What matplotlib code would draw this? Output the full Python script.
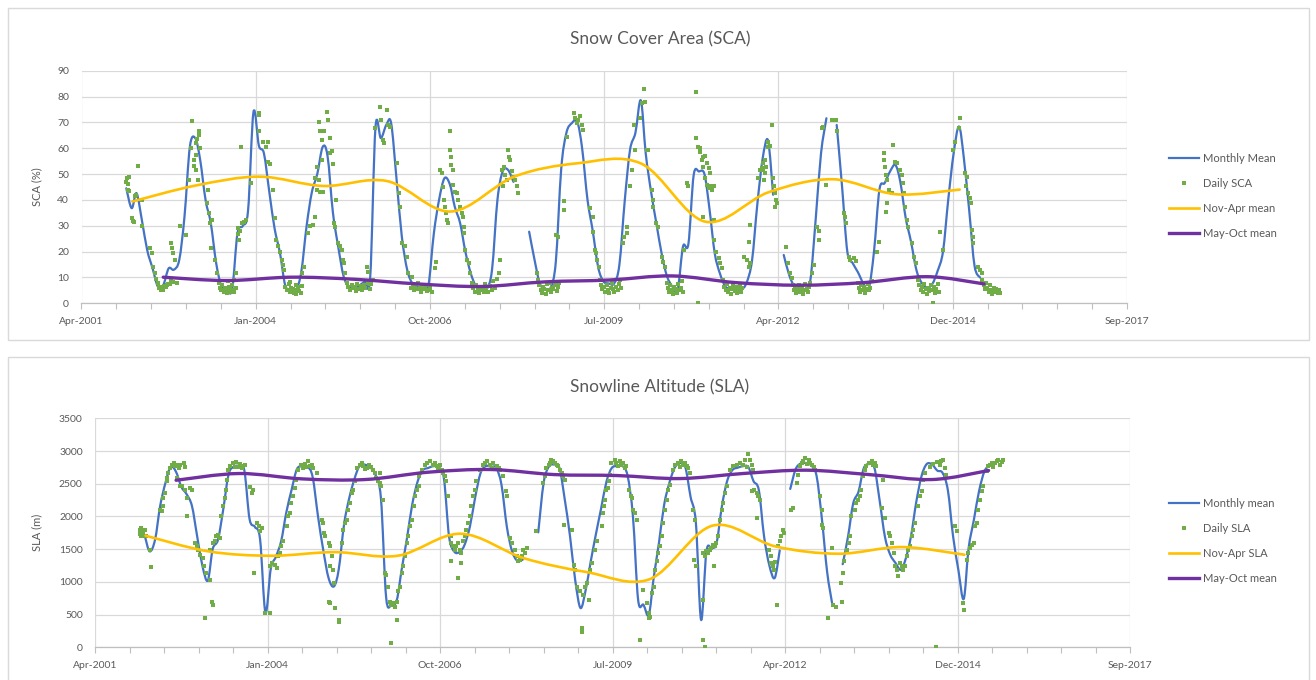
import numpy as np
import pandas as pd
import matplotlib
matplotlib.use("Agg")
import matplotlib.pyplot as plt
import matplotlib.dates as mdates
from matplotlib.path import Path
from matplotlib.patches import PathPatch, Rectangle
from matplotlib.lines import Line2D
from matplotlib.ticker import FixedLocator
from datetime import datetime

plt.rcParams['font.family'] = ['Lato', 'DejaVu Sans']

nan = float('nan')

# ---------------- Snow Cover Area (%) ----------------
# monthly mean, first of month, Jan 2002 - Jun 2015
sca_monthly = [
    44.5, 36.8, 42.6, 32.0, 20.6, 13.5, 6.5, 7.0, 13.5, 13.0, 16.8, 33.5,      # 2002
    60.6, 63.9, 55.5, 40.0, 31.0, 15.5, 6.5, 5.2, 5.5, 27.0, 30.0, 36.0,       # 2003
    74.0, 61.0, 58.0, 43.0, 29.0, 19.5, 7.0, 5.2, 5.2, 12.0, 30.0, 43.0,       # 2004
    50.0, 60.5, 57.0, 35.0, 22.0, 10.5, 6.5, 6.0, 7.0, 8.5, 10.3, 68.0,        # 2005
    63.9, 69.0, 69.7, 48.0, 26.0, 13.0, 7.7, 6.5, 6.5, 7.0, 27.0, 40.0,        # 2006
    48.4, 46.0, 37.4, 31.0, 20.0, 11.6, 6.5, 5.2, 5.5, 13.0, 40.0, 51.0,       # 2007
    51.6, 47.0, nan, nan, 27.7, 16.8, 7.7, 5.5, 6.0, 16.0, 52.0, 66.0,         # 2008
    69.7, 70.3, 60.0, 40.0, 28.0, 14.0, 8.5, 7.7, 7.7, 15.0, 40.0, 59.4,       # 2009
    66.0, 78.5, 58.0, 43.0, 31.0, 19.0, 10.5, 6.5, 5.5, 22.0, 23.0, 49.5,      # 2010
    51.0, 50.0, 37.0, 19.4, 11.5, 6.5, 5.8, 5.5, 5.3, 8.0, 16.5, 38.0,         # 2011
    56.0, 63.0, 42.0, nan, 18.7, 11.0, 6.5, 5.2, 5.2, 9.0, 33.0, 58.0,         # 2012
    71.6, nan, 69.0, 45.0, 20.0, 15.5, 12.0, 7.7, 5.8, 20.0, 43.9, 46.5,       # 2013
    51.0, 53.5, 47.0, 33.0, 24.0, 13.0, 8.0, 6.0, 7.5, 12.5, 20.0, 40.0,       # 2014
    58.0, 68.4, 56.0, 35.5, 14.5, 10.0,                                        # 2015
]
sca_monthly_start = '2002-01-01'

# seasonal means
winter_dates = ['2002-02-05', '2003-02-05', '2004-02-05', '2005-02-05', '2006-02-05',
                '2007-02-05', '2008-02-05', '2009-02-05', '2010-02-05', '2011-02-05',
                '2012-02-05', '2013-02-05', '2014-02-05', '2015-02-05']
summer_dates = ['2002-08-01', '2003-08-01', '2004-08-01', '2005-08-01', '2006-08-01',
                '2007-08-01', '2008-08-01', '2009-08-01', '2010-08-01', '2011-08-01',
                '2012-08-01', '2013-08-01', '2014-08-01', '2015-06-25']
sca_nov_apr = [39.4, 45.6, 49.0, 45.4, 47.3, 35.5, 49.0, 54.2, 54.0, 31.6, 43.0, 48.0, 42.2, 44.0]
sca_may_oct = [10.1, 8.8, 10.1, 9.3, 7.5, 6.5, 8.3, 9.0, 10.6, 8.0, 7.0, 8.0, 10.3, 7.5]

# daily scenes (decimal year, %)
sca_daily = [
    (2002.00, 47), (2002.01, 48.5), (2002.02, 46), (2002.03, 44), (2002.04, 43.5), (2002.05, 49),
    (2002.09, 33), (2002.10, 32), (2002.12, 31.5), (2002.14, 41.5), (2002.16, 42), (2002.18, 53.2),
    (2002.24, 40), (2002.25, 30), (2002.37, 21.3), (2002.40, 19.4), (2002.42, 14), (2002.45, 11.6),
    (2002.47, 9.5), (2002.50, 8), (2002.51, 6.5), (2002.52, 5.8), (2002.54, 5), (2002.55, 6.5),
    (2002.57, 5.5), (2002.58, 5), (2002.60, 6.8), (2002.62, 6.4), (2002.64, 7), (2002.66, 7.5),
    (2002.68, 7.4), (2002.70, 8.5), (2002.71, 23.2), (2002.72, 21.3), (2002.74, 19.4), (2002.76, 16.8),
    (2002.74, 8.3), (2002.79, 8), (2002.85, 30), (2002.94, 26.5), (2002.99, 47.7),
    (2003.01, 60), (2003.04, 70.6), (2003.06, 53), (2003.07, 55.5), (2003.09, 62), (2003.09, 57.4),
    (2003.10, 51.6), (2003.11, 63.5), (2003.13, 47.7), (2003.14, 66.5), (2003.15, 65), (2003.16, 60),
    (2003.27, 38.7), (2003.29, 43.9), (2003.30, 34.8), (2003.32, 31), (2003.35, 32.3), (2003.33, 21.3),
    (2003.40, 16.8), (2003.42, 11.6), (2003.45, 8), (2003.47, 6), (2003.49, 5), (2003.51, 7),
    (2003.53, 4.5), (2003.55, 6), (2003.57, 5.2), (2003.59, 4), (2003.60, 8.5), (2003.61, 6.5),
    (2003.63, 5.5), (2003.65, 4.5), (2003.67, 7), (2003.68, 5), (2003.69, 9), (2003.70, 4.2),
    (2003.72, 6), (2003.72, 11.6), (2003.75, 29), (2003.76, 27), (2003.77, 24.5), (2003.79, 28),
    (2003.80, 60.4), (2003.82, 31), (2003.85, 31.6), (2003.88, 32.3), (2003.96, 46.7),
    (2004.08, 73.5), (2004.09, 73), (2004.09, 66.5), (2004.15, 62.6), (2004.19, 60.6), (2004.23, 62.6),
    (2004.23, 54.8), (2004.26, 54), (2004.31, 43.9), (2004.34, 32.9), (2004.36, 24.5), (2004.39, 22),
    (2004.42, 20), (2004.44, 16.8), (2004.46, 14.8), (2004.48, 12.9), (2004.50, 6.5), (2004.52, 5),
    (2004.55, 7.5), (2004.57, 4.5), (2004.58, 8.3), (2004.59, 6), (2004.62, 5.5), (2004.64, 4),
    (2004.66, 7), (2004.67, 3.5), (2004.68, 5), (2004.70, 6.2), (2004.72, 4.8), (2004.74, 3.8),
    (2004.76, 6.8), (2004.76, 11.6), (2004.79, 14), (2004.86, 27.1), (2004.89, 30), (2004.94, 30.3),
    (2004.97, 33.5), (2004.97, 48.4), (2004.99, 43.9), (2004.99, 52.9),
    (2005.02, 47.7), (2005.04, 43.2), (2005.02, 70.3), (2005.04, 66.5), (2005.07, 63.2), (2005.07, 55.5),
    (2005.09, 43.2), (2005.11, 66.5), (2005.15, 74.2), (2005.17, 71), (2005.20, 63.9), (2005.20, 58),
    (2005.23, 59), (2005.25, 54), (2005.27, 31), (2005.28, 29.7), (2005.30, 40), (2005.33, 23.2),
    (2005.36, 22), (2005.39, 20.6), (2005.40, 16.8), (2005.42, 15.5), (2005.44, 11.6), (2005.47, 8),
    (2005.49, 6.5), (2005.52, 5.2), (2005.54, 7), (2005.56, 5.8), (2005.59, 6.5), (2005.61, 4.8),
    (2005.63, 7.5), (2005.66, 5.5), (2005.68, 6.8), (2005.71, 5), (2005.73, 7.2), (2005.75, 6),
    (2005.78, 14), (2005.80, 12.3), (2005.80, 8), (2005.83, 5.5), (2005.85, 7.5), (2005.87, 9),
    (2005.91, 67.7), (2005.99, 76.1),
    (2006.01, 71), (2006.04, 63.2), (2006.05, 62), (2006.09, 74.8), (2006.12, 69), (2006.14, 68.4),
    (2006.25, 54.2), (2006.28, 42.6), (2006.30, 37.4), (2006.33, 23.2), (2006.38, 22), (2006.41, 18),
    (2006.43, 11.6), (2006.49, 10.3), (2006.47, 6), (2006.50, 7.5), (2006.52, 5), (2006.54, 6.5),
    (2006.57, 5.5), (2006.59, 8), (2006.61, 6), (2006.63, 4.5), (2006.65, 7), (2006.67, 5.5),
    (2006.70, 6.5), (2006.72, 4.8), (2006.74, 7), (2006.76, 5.2), (2006.78, 6), (2006.80, 4.5),
    (2006.85, 13.5), (2006.87, 16), (2006.93, 51.6), (2006.96, 50.3), (2006.97, 45), (2006.99, 40),
    (2007.01, 37.4), (2007.02, 34.8), (2007.04, 32.3), (2007.06, 31), (2007.08, 66.5), (2007.09, 59.4),
    (2007.10, 56.8), (2007.11, 53.5), (2007.13, 51.6), (2007.14, 45.8), (2007.17, 43.2), (2007.19, 42.6),
    (2007.22, 40), (2007.25, 37.4), (2007.27, 34.8), (2007.29, 33.5), (2007.30, 29.7), (2007.31, 27.1),
    (2007.32, 20.6), (2007.35, 16.8), (2007.38, 15.5), (2007.40, 11.6), (2007.43, 8), (2007.45, 6),
    (2007.48, 4.5), (2007.50, 7), (2007.52, 5.2), (2007.55, 3.8), (2007.57, 6.5), (2007.59, 5),
    (2007.62, 4.2), (2007.64, 7.5), (2007.66, 5.5), (2007.69, 4.5), (2007.71, 6.8), (2007.74, 5),
    (2007.77, 8.5), (2007.80, 6), (2007.82, 9.5), (2007.85, 11.6), (2007.87, 16.8), (2007.90, 51.6),
    (2007.92, 45.2), (2007.93, 52.9), (2007.95, 49.7), (2007.98, 47.7),
    (2008.00, 59.4), (2008.02, 56.8), (2008.03, 55.5), (2008.06, 51), (2008.08, 49), (2008.11, 47.7),
    (2008.14, 45.2), (2008.16, 42.6), (2008.45, 11.6), (2008.47, 9), (2008.49, 7), (2008.51, 5),
    (2008.53, 4), (2008.55, 6.5), (2008.57, 5.5), (2008.59, 3.5), (2008.61, 7.5), (2008.63, 5),
    (2008.65, 8), (2008.67, 4.5), (2008.69, 6), (2008.71, 5.5), (2008.73, 7), (2008.75, 26.5),
    (2008.76, 4.8), (2008.78, 6.5), (2008.79, 25.5), (2008.80, 8), (2008.87, 36.1), (2008.88, 39.4),
    (2008.92, 64.5),
    (2009.03, 73.5), (2009.05, 71.6), (2009.08, 69.7), (2009.10, 71), (2009.13, 72.3), (2009.16, 69),
    (2009.17, 67.1), (2009.29, 36.8), (2009.33, 33.5), (2009.34, 27.7), (2009.37, 20.6), (2009.38, 19.4),
    (2009.40, 16.8), (2009.42, 14.2), (2009.44, 9), (2009.46, 7), (2009.48, 5.5), (2009.50, 6.5),
    (2009.52, 4.5), (2009.55, 7), (2009.57, 5), (2009.59, 3.8), (2009.61, 6), (2009.63, 8),
    (2009.65, 5.5), (2009.67, 4.2), (2009.70, 6.5), (2009.72, 5), (2009.74, 7.5), (2009.76, 9),
    (2009.78, 6), (2009.80, 23.2), (2009.82, 25.8), (2009.86, 27.1), (2009.87, 29.7), (2009.92, 45.2),
    (2009.94, 51.6), (2009.97, 69),
    (2010.00, 59.4), (2010.07, 71.6), (2010.10, 77.4), (2010.13, 82.8), (2010.15, 78), (2010.18, 59.4),
    (2010.20, 59.4), (2010.26, 43.9), (2010.27, 40), (2010.28, 37.4), (2010.33, 31), (2010.36, 29.7),
    (2010.41, 18), (2010.44, 16.1), (2010.47, 14.2), (2010.49, 8), (2010.51, 6), (2010.53, 4.5),
    (2010.55, 7), (2010.57, 5), (2010.59, 3.5), (2010.61, 6.5), (2010.63, 5.5), (2010.65, 4),
    (2010.67, 7.5), (2010.69, 5), (2010.71, 6), (2010.73, 8.5), (2010.75, 4.5), (2010.77, 20.6),
    (2010.81, 46.5), (2010.83, 45.2), (2010.95, 81.9), (2010.96, 63.9), (2010.99, 60.6), (2010.99, 0.3),
    (2011.01, 58.7), (2011.02, 60.1), (2011.04, 55.5), (2011.06, 33.5), (2011.07, 56.8), (2011.07, 52.9),
    (2011.10, 57), (2011.10, 48.4), (2011.12, 54.2), (2011.12, 45.8), (2011.15, 52.3), (2011.15, 44.5),
    (2011.17, 50.3), (2011.17, 45.2), (2011.20, 43.9), (2011.23, 45.2), (2011.23, 32.3), (2011.24, 24.5),
    (2011.27, 20), (2011.31, 17.4), (2011.33, 15.5), (2011.36, 13.5), (2011.38, 9), (2011.40, 6.5),
    (2011.42, 5), (2011.44, 7.5), (2011.46, 4.5), (2011.48, 6), (2011.50, 3.5), (2011.52, 5.5),
    (2011.54, 7), (2011.56, 4.8), (2011.58, 6.2), (2011.60, 3.8), (2011.62, 5.5), (2011.64, 7.2),
    (2011.66, 4.5), (2011.68, 6), (2011.70, 18), (2011.75, 16.8), (2011.78, 14.2), (2011.79, 23.9),
    (2011.80, 30.3), (2011.80, 15.5), (2011.93, 48.4), (2011.96, 51.6), (2011.99, 52.3),
    (2012.01, 54.2), (2012.04, 50.3), (2012.06, 52.9), (2012.09, 60.6), (2012.01, 51.6), (2012.02, 47.7),
    (2012.04, 55.5), (2012.09, 62.6), (2012.12, 61), (2012.14, 69), (2012.16, 48.4), (2012.18, 45.2),
    (2012.20, 42.6), (2012.21, 40), (2012.20, 37.4), (2012.22, 39), (2012.37, 21.9), (2012.40, 15.5),
    (2012.43, 11.6), (2012.46, 9.7), (2012.47, 7), (2012.49, 5), (2012.51, 6.5), (2012.53, 4),
    (2012.55, 5.5), (2012.57, 7), (2012.59, 4.5), (2012.61, 6), (2012.63, 3.5), (2012.65, 5),
    (2012.67, 7.5), (2012.69, 5.5), (2012.71, 4.2), (2012.73, 6.5), (2012.75, 8), (2012.77, 11.6),
    (2012.80, 14.8), (2012.86, 29.7), (2012.88, 24.5), (2012.89, 28), (2012.93, 67.7), (2012.95, 68.4),
    (2012.99, 45.8),
    (2013.09, 71), (2013.15, 71), (2013.16, 66.5), (2013.27, 34.8), (2013.30, 33.5), (2013.31, 31),
    (2013.35, 18), (2013.37, 16.8), (2013.44, 17.4), (2013.47, 16.5), (2013.49, 8), (2013.51, 6),
    (2013.53, 4.5), (2013.55, 7), (2013.57, 5), (2013.59, 6.5), (2013.61, 4), (2013.63, 5.5),
    (2013.65, 7.5), (2013.67, 5), (2013.69, 6), (2013.71, 8.5), (2013.79, 20), (2013.82, 23.9),
    (2013.90, 58), (2013.91, 55.5), (2013.92, 52.9), (2013.94, 49.7), (2013.95, 47.7), (2013.94, 35.5),
    (2013.95, 38.7), (2013.99, 43.9),
    (2014.03, 42.6), (2014.05, 61.3), (2014.08, 54.8), (2014.11, 54.2), (2014.16, 51.6), (2014.19, 49.7),
    (2014.20, 46.5), (2014.22, 42.6), (2014.24, 37.4), (2014.26, 32.3), (2014.29, 29.7), (2014.34, 23.2),
    (2014.38, 18), (2014.41, 15.5), (2014.44, 9), (2014.46, 7), (2014.48, 5), (2014.50, 6.5),
    (2014.52, 4.5), (2014.54, 7.5), (2014.56, 5.5), (2014.58, 3.5), (2014.60, 6), (2014.62, 4.8),
    (2014.64, 7), (2014.66, 5), (2014.67, 0.3), (2014.69, 6.5), (2014.71, 4), (2014.73, 5.5),
    (2014.75, 7.5), (2014.77, 4.5), (2014.79, 27.7), (2014.83, 20.6), (2014.99, 59.4),
    (2015.02, 62.6), (2015.08, 67.7), (2015.10, 71.6), (2015.18, 50.3), (2015.20, 45.2), (2015.21, 49),
    (2015.23, 42.6), (2015.25, 40.6), (2015.27, 38.7), (2015.29, 28.4), (2015.30, 25.8), (2015.31, 23.2),
    (2015.39, 14.2), (2015.42, 12.9), (2015.44, 11.6), (2015.45, 9), (2015.47, 7), (2015.49, 5.5),
    (2015.51, 8), (2015.53, 6), (2015.55, 4.5), (2015.57, 7), (2015.59, 5), (2015.61, 3.5),
    (2015.63, 6), (2015.65, 4.5), (2015.67, 5.5), (2015.69, 3.8), (2015.71, 5), (2015.73, 4),
]

# ---------------- Snowline Altitude (m) ----------------
# monthly mean, first of month, Feb 2002 - Jul 2015
sla_monthly = [
    1700, 1466, 1644, 2165, 2520, 2760, 2680, 2450, 2340, 2160, 1700,          # 2002
    1240, 1020, 1500, 1644, 2100, 2640, 2760, 2770, 2700, 1960, 1840, 1650,    # 2003
    530, 1200, 1380, 1620, 2060, 2410, 2720, 2768, 2765, 2600, 2000, 1491,     # 2004
    1060, 930, 1190, 1880, 2280, 2580, 2780, 2790, 2745, 2630, 2270, 760,      # 2005
    650, 725, 1190, 1670, 2180, 2530, 2705, 2740, 2768, 2750, 2580, 1690,      # 2006
    1460, 1460, 1568, 1850, 2290, 2660, 2768, 2760, 2740, 2480, 1840, 1470,    # 2007
    1320, 1340, nan, nan, 1757, 2513, 2760, 2793, 2740, 2270, 1700, 1030,      # 2008
    600, 890, 1310, 1740, 2130, 2538, 2740, 2770, 2770, 2620, 2000, 725,       # 2009
    650, 495, 1060, 1600, 2180, 2520, 2745, 2815, 2750, 2300, 1900, 420,       # 2010
    1466, 1515, 1593, 2160, 2540, 2710, 2745, 2768, 2755, 2540, 2400, 1700,    # 2011
    1250, 1060, 1480, nan, 2420, 2720, 2810, 2815, 2775, 2615, 1951, 1150,     # 2012
    640, nan, 1270, 1690, 2200, 2380, 2735, 2800, 2743, 2250, 1690, 1420,      # 2013
    1290, 1185, 1350, 1695, 2210, 2615, 2800, 2795, 2700, 2666, 2400, 1700,    # 2014
    1180, 740, 1510, 1951, 2390, 2690, 2780,                                   # 2015
]
sla_monthly_start = '2002-02-01'

sla_nov_apr = [1706, 1466, 1399, 1455, 1399, 1736, 1364, 1150, 1040, 1859, 1542, 1430, 1532, 1415]
sla_may_oct = [2553, 2656, 2574, 2564, 2676, 2717, 2640, 2625, 2579, 2656, 2707, 2640, 2564, 2702]

# daily scenes (decimal year, m)
sla_daily = [
    (2002.00, 1798), (2002.01, 1736), (2002.02, 1695), (2002.02, 1760), (2002.03, 1823), (2002.05, 1706),
    (2002.06, 1757), (2002.09, 1798), (2002.10, 1695), (2002.16, 1491), (2002.18, 1226),
    (2002.33, 2104), (2002.35, 2079), (2002.37, 2283), (2002.38, 2155), (2002.40, 2360), (2002.43, 2589),
    (2002.44, 2538), (2002.46, 2666), (2002.48, 2743), (2002.51, 2793), (2002.54, 2819), (2002.56, 2768),
    (2002.59, 2793), (2002.62, 2740), (2002.64, 2780), (2002.71, 2819), (2002.72, 2760), (2002.59, 2589),
    (2002.64, 2462), (2002.67, 2470), (2002.72, 2411), (2002.75, 2283), (2002.80, 2436), (2002.83, 2411),
    (2002.76, 2002), (2002.88, 1593), (2002.92, 1542), (2002.93, 1491), (2002.96, 1415),
    (2003.01, 1364), (2003.02, 1236), (2003.04, 444), (2003.06, 1134), (2003.12, 1032), (2003.15, 700),
    (2003.16, 649), (2003.12, 1491), (2003.17, 1593), (2003.20, 1619), (2003.22, 1695), (2003.25, 1721),
    (2003.28, 1670), (2003.30, 2002), (2003.33, 2155), (2003.36, 2283), (2003.38, 2411), (2003.39, 2564),
    (2003.41, 2717), (2003.44, 2768), (2003.49, 2819), (2003.52, 2760), (2003.54, 2829), (2003.57, 2760),
    (2003.59, 2809), (2003.62, 2740), (2003.65, 2778), (2003.67, 2793), (2003.75, 2451), (2003.78, 2360),
    (2003.80, 2411), (2003.82, 1134), (2003.86, 1900), (2003.89, 1849), (2003.91, 1772), (2003.94, 1823),
    (2003.99, 521),
    (2004.07, 521), (2004.08, 1236), (2004.11, 1287), (2004.15, 1262), (2004.18, 1210), (2004.20, 1389),
    (2004.23, 1440), (2004.24, 1542), (2004.28, 1619), (2004.34, 1849), (2004.36, 2002), (2004.39, 2053),
    (2004.41, 2206), (2004.44, 2308), (2004.47, 2436), (2004.48, 2564), (2004.52, 2717), (2004.57, 2793),
    (2004.60, 2740), (2004.63, 2809), (2004.65, 2750), (2004.68, 2845), (2004.71, 2768), (2004.73, 2793),
    (2004.76, 2740), (2004.81, 2666), (2004.89, 1951), (2004.91, 1900), (2004.93, 1747), (2004.94, 1695),
    (2005.00, 1593), (2005.02, 1542), (2005.05, 1389), (2005.02, 1236), (2005.07, 1185), (2005.00, 700),
    (2005.02, 674), (2005.10, 598), (2005.16, 393), (2005.17, 419), (2005.08, 981),
    (2005.21, 1593), (2005.23, 1798), (2005.26, 1900), (2005.29, 1951), (2005.31, 2104), (2005.34, 2206),
    (2005.37, 2360), (2005.39, 2411), (2005.42, 2538), (2005.45, 2743), (2005.50, 2793), (2005.53, 2819),
    (2005.55, 2768), (2005.58, 2720), (2005.61, 2743), (2005.65, 2793), (2005.68, 2750), (2005.71, 2717),
    (2005.74, 2666), (2005.76, 2589), (2005.79, 2538), (2005.81, 2666), (2005.82, 2513), (2005.84, 2462),
    (2005.87, 2257), (2005.90, 1134), (2005.92, 1108), (2005.95, 929), (2005.98, 700), (2005.99, 61),
    (2006.00, 649), (2006.03, 674), (2006.06, 623), (2006.08, 700), (2006.08, 419), (2006.11, 853),
    (2006.13, 929), (2006.16, 1134), (2006.19, 1236), (2006.21, 1389), (2006.24, 1593), (2006.27, 1695),
    (2006.29, 1849), (2006.32, 1951), (2006.35, 2155), (2006.37, 2308), (2006.40, 2411), (2006.43, 2462),
    (2006.44, 2615), (2006.48, 2717), (2006.53, 2793), (2006.56, 2819), (2006.61, 2845), (2006.66, 2793),
    (2006.69, 2819), (2006.72, 2768), (2006.74, 2740), (2006.77, 2790), (2006.80, 2717), (2006.82, 2666),
    (2006.85, 2615), (2006.87, 2538), (2006.90, 2308), (2006.94, 1695), (2006.94, 1312), (2006.95, 1593),
    (2006.98, 1542),
    (2007.01, 1491), (2007.03, 1542), (2007.06, 1593), (2007.06, 1057), (2007.09, 1491), (2007.10, 1287),
    (2007.11, 1440), (2007.14, 1619), (2007.17, 1695), (2007.19, 1798), (2007.22, 1900), (2007.25, 2002),
    (2007.27, 2155), (2007.30, 2308), (2007.32, 2411), (2007.35, 2538), (2007.40, 2717), (2007.46, 2793),
    (2007.48, 2819), (2007.51, 2845), (2007.56, 2793), (2007.59, 2743), (2007.62, 2819), (2007.67, 2768),
    (2007.70, 2743), (2007.72, 2717), (2007.77, 2615), (2007.82, 2385), (2007.83, 2308), (2007.88, 1670),
    (2007.91, 1593), (2007.96, 1491), (2007.99, 1389),
    (2008.01, 1312), (2008.04, 1338), (2008.07, 1389), (2008.09, 1491), (2008.12, 1440), (2008.15, 1517),
    (2008.30, 1772), (2008.41, 2513), (2008.44, 2615), (2008.46, 2743), (2008.50, 2793), (2008.52, 2819),
    (2008.54, 2870), (2008.57, 2845), (2008.59, 2819), (2008.62, 2793), (2008.65, 2768), (2008.67, 2717),
    (2008.70, 2666), (2008.73, 2615), (2008.75, 2564), (2008.74, 1874), (2008.87, 1798), (2008.89, 1262),
    (2008.91, 1185), (2008.94, 929), (2008.99, 853),
    (2009.02, 291), (2009.02, 240), (2009.04, 802), (2009.07, 929), (2009.10, 981), (2009.14, 725),
    (2009.15, 1185), (2009.18, 1287), (2009.23, 1491), (2009.26, 1619), (2009.34, 1849), (2009.36, 2053),
    (2009.37, 2155), (2009.39, 2257), (2009.41, 2411), (2009.44, 2436), (2009.46, 2538), (2009.47, 2640),
    (2009.49, 2819), (2009.55, 2870), (2009.57, 2819), (2009.60, 2770), (2009.63, 2845), (2009.65, 2793),
    (2009.68, 2819), (2009.71, 2743), (2009.73, 2770), (2009.77, 2411), (2009.80, 2308), (2009.81, 2283),
    (2009.84, 2104), (2009.86, 2053), (2009.89, 1951), (2009.94, 112), (2009.99, 878),
    (2010.05, 674), (2010.08, 521), (2010.09, 444), (2010.10, 470), (2010.13, 827), (2010.16, 929),
    (2010.18, 1185), (2010.21, 1312), (2010.23, 1440), (2010.26, 1542), (2010.29, 1695), (2010.31, 1900),
    (2010.34, 2104), (2010.37, 2257), (2010.39, 2411), (2010.42, 2487), (2010.47, 2717), (2010.50, 2793),
    (2010.55, 2819), (2010.58, 2760), (2010.60, 2845), (2010.63, 2793), (2010.66, 2819), (2010.69, 2768),
    (2010.71, 2740), (2010.74, 2666), (2010.79, 2104), (2010.80, 1338), (2010.82, 1951), (2010.83, 1236),
    (2010.94, 725), (2010.95, 112), (2010.98, 0), (2010.95, 1440), (2010.98, 1389),
    (2011.00, 1466), (2011.03, 1440), (2011.05, 1491), (2011.08, 1517), (2011.11, 1568), (2011.12, 1236),
    (2011.13, 1542), (2011.16, 1593), (2011.19, 1695), (2011.21, 1951), (2011.24, 2104), (2011.27, 2206),
    (2011.29, 2360), (2011.32, 2462), (2011.37, 2717), (2011.43, 2768), (2011.48, 2793), (2011.53, 2819),
    (2011.58, 2790), (2011.61, 2870), (2011.64, 2760), (2011.66, 2947), (2011.69, 2870), (2011.72, 2793),
    (2011.74, 2717), (2011.72, 2385), (2011.75, 2411), (2011.80, 2360), (2011.81, 1977), (2011.82, 2308),
    (2011.85, 2257),
    (2012.00, 1491), (2012.02, 1389), (2012.03, 1287), (2012.06, 1236), (2012.07, 1185), (2012.09, 1300),
    (2012.12, 649), (2012.14, 1542), (2012.17, 1619), (2012.19, 1695), (2012.22, 1798), (2012.23, 1750),
    (2012.34, 2104), (2012.37, 2130), (2012.43, 2513), (2012.46, 2640), (2012.48, 2768), (2012.51, 2819),
    (2012.54, 2845), (2012.56, 2896), (2012.59, 2800), (2012.62, 2870), (2012.64, 2820), (2012.67, 2793),
    (2012.70, 2760), (2012.72, 2717), (2012.80, 2308), (2012.83, 2104), (2012.84, 1874), (2012.85, 1823),
    (2012.93, 444), (2012.99, 1517),
    (2013.01, 649), (2013.06, 623), (2013.15, 700), (2013.13, 981), (2013.16, 1134), (2013.18, 1312),
    (2013.23, 1491), (2013.27, 1593), (2013.28, 1695), (2013.30, 2002), (2013.36, 2104), (2013.38, 2206),
    (2013.41, 2257), (2013.43, 2308), (2013.45, 2411), (2013.49, 2615), (2013.52, 2717), (2013.54, 2768),
    (2013.58, 2819), (2013.62, 2845), (2013.65, 2793), (2013.67, 2820), (2013.69, 2768), (2013.78, 2130),
    (2013.81, 2564), (2013.83, 1977), (2013.89, 1747), (2013.91, 1695), (2013.94, 1593), (2013.97, 1440),
    (2013.99, 1236),
    (2014.02, 1185), (2014.04, 1083), (2014.07, 1287), (2014.10, 1250), (2014.12, 1185), (2014.15, 1240),
    (2014.18, 1389), (2014.20, 1491), (2014.23, 1542), (2014.26, 1695), (2014.28, 1798), (2014.31, 1900),
    (2014.36, 2155), (2014.39, 2308), (2014.42, 2385), (2014.44, 2564), (2014.47, 2666), (2014.55, 2760),
    (2014.60, 2800), (2014.65, 0), (2014.66, 2830), (2014.71, 2793), (2014.73, 2845), (2014.76, 2870),
    (2014.79, 2743), (2014.81, 2640), (2014.94, 1849), (2014.97, 1772),
    (2015.07, 674), (2015.09, 572), (2015.13, 1338), (2015.16, 1440), (2015.18, 1517), (2015.21, 1568),
    (2015.24, 1593), (2015.26, 1849), (2015.29, 1900), (2015.31, 2104), (2015.34, 2257), (2015.37, 2385),
    (2015.39, 2462), (2015.45, 2691), (2015.47, 2768), (2015.50, 2793), (2015.53, 2819), (2015.55, 2760),
    (2015.58, 2820), (2015.61, 2845), (2015.63, 2870), (2015.66, 2780), (2015.69, 2830), (2015.71, 2870),
]

# ---------------- styling ----------------
BLUE = '#4472C4'
GREEN = '#70AD47'
ORANGE = '#FFC000'
PURPLE = '#7030A0'
TEXT = '#595959'
GRID = '#D9D9D9'

W, H = 1316, 680


def decimal_years_to_num(years):
    out = []
    for y in years:
        yi = int(np.floor(y))
        a, b = datetime(yi, 1, 1), datetime(yi + 1, 1, 1)
        out.append(mdates.date2num(a + (b - a) * (y - yi)))
    return np.array(out)


def smooth_line(ax, x, y, color, lw, zorder):
    """Smoothed polyline (cubic Bezier through every point), broken at gaps."""
    x = np.asarray(x, float)
    y = np.asarray(y, float)
    idx = np.where(np.isfinite(y))[0]
    runs = np.split(idx, np.where(np.diff(idx) > 1)[0] + 1)
    for r in runs:
        if len(r) < 2:
            continue
        xs, ys = x[r], y[r]
        n = len(xs)
        verts = [(xs[0], ys[0])]
        codes = [Path.MOVETO]
        for i in range(n - 1):
            xp, yp = (xs[i - 1], ys[i - 1]) if i > 0 else (xs[i], ys[i])
            xn, yn = (xs[i + 2], ys[i + 2]) if i + 2 < n else (xs[i + 1], ys[i + 1])
            c1 = (xs[i] + (xs[i + 1] - xp) / 6.0, ys[i] + (ys[i + 1] - yp) / 6.0)
            c2 = (xs[i + 1] - (xn - xs[i]) / 6.0, ys[i + 1] - (yn - ys[i]) / 6.0)
            verts += [c1, c2, (xs[i + 1], ys[i + 1])]
            codes += [Path.CURVE4] * 3
        ax.add_patch(PathPatch(Path(verts, codes), fill=False, edgecolor=color,
                               linewidth=lw, capstyle='round', joinstyle='round',
                               zorder=zorder))


x_start = mdates.date2num(datetime(2001, 4, 19))
x_end = x_start + 6000


def style_axes(ax, ymax, ystep):
    ax.set_xlim(x_start, x_end)
    ax.set_ylim(0, ymax)
    ax.set_yticks(np.arange(0, ymax + 1, ystep))
    ax.xaxis.set_major_locator(FixedLocator([x_start + 1000 * i for i in range(7)]))
    ax.xaxis.set_minor_locator(FixedLocator([x_start + 200 * i for i in range(31)]))
    ax.xaxis.set_major_formatter(mdates.DateFormatter('%b-%Y'))
    ax.grid(True, which='major', color=GRID, linewidth=0.9, zorder=0)
    ax.set_axisbelow(True)
    for s in ('top', 'right', 'left'):
        ax.spines[s].set_visible(False)
    ax.spines['bottom'].set_color('#BFBFBF')
    ax.spines['bottom'].set_linewidth(0.9)
    ax.tick_params(axis='y', length=0, pad=9, labelsize=7.5, labelcolor=TEXT)
    ax.tick_params(axis='x', which='both', length=4, width=0.8, color='#BFBFBF',
                   direction='out', pad=6, labelsize=7.5, labelcolor=TEXT)


def draw_panel(ax, monthly, monthly_start, daily, winter, summer, ymax, ystep):
    m_dates = mdates.date2num(pd.date_range(monthly_start, periods=len(monthly), freq='MS').to_pydatetime())
    smooth_line(ax, m_dates, monthly, BLUE, 1.6, 3)
    dx = decimal_years_to_num([d[0] for d in daily])
    dy = [d[1] for d in daily]
    ax.scatter(dx, dy, s=7, marker='s', color=GREEN, linewidths=0, zorder=4)
    w_dates = mdates.date2num(pd.to_datetime(winter_dates).to_pydatetime())
    s_dates = mdates.date2num(pd.to_datetime(summer_dates).to_pydatetime())
    smooth_line(ax, w_dates, winter, ORANGE, 1.9, 5)
    smooth_line(ax, s_dates, summer, PURPLE, 2.4, 6)
    style_axes(ax, ymax, ystep)


fig = plt.figure(figsize=(W / 100, H / 100), dpi=100)
fig.patch.set_facecolor('white')

# chart frames
fig.add_artist(Rectangle((8 / W, 1 - 340 / H), (1309 - 8) / W, (340 - 8) / H,
                         transform=fig.transFigure, fill=False, edgecolor=GRID, linewidth=1))
fig.add_artist(Rectangle((8 / W, -0.05), (1309 - 8) / W, 1 - 357 / H + 0.05,
                         transform=fig.transFigure, fill=False, edgecolor=GRID, linewidth=1))

ax1 = fig.add_axes([81.5 / W, 1 - 303.3 / H, (1127 - 81.5) / W, (303.3 - 70.7) / H])
draw_panel(ax1, sca_monthly, sca_monthly_start, sca_daily, sca_nov_apr, sca_may_oct, 90, 10)
ax1.set_ylabel('SCA (%)', fontsize=8, color=TEXT)
ax1.yaxis.set_label_coords((42 - 81.5) / (1127 - 81.5), 0.5)

ax2 = fig.add_axes([95.2 / W, 1 - 647.3 / H, (1130 - 95.2) / W, (647.3 - 418.3) / H])
draw_panel(ax2, sla_monthly, sla_monthly_start, sla_daily, sla_nov_apr, sla_may_oct, 3500, 500)
ax2.set_ylabel('SLA (m)', fontsize=8, color=TEXT)
ax2.yaxis.set_label_coords((42 - 95.2) / (1130 - 95.2), 0.5)

fig.text(660 / W, 1 - 39 / H, 'Snow Cover Area (SCA)', ha='center', va='center',
         fontsize=12.5, color=TEXT)
fig.text(660 / W, 1 - 387 / H, 'Snowline Altitude (SLA)', ha='center', va='center',
         fontsize=12.5, color=TEXT)


def legend_handles():
    return [Line2D([], [], color=BLUE, lw=1.6),
            Line2D([], [], ls='none', marker='s', ms=2.6, color=GREEN, mew=0),
            Line2D([], [], color=ORANGE, lw=1.9),
            Line2D([], [], color=PURPLE, lw=2.4)]


leg_kw = dict(loc='upper left', frameon=False, fontsize=8, handlelength=2.7,
              handletextpad=0.35, labelspacing=1.25, borderpad=0.4, labelcolor=TEXT)
fig.legend(legend_handles(), ['Monthly Mean', 'Daily SCA', 'Nov-Apr mean', 'May-Oct mean'],
           bbox_to_anchor=(1159 / W, 1 - 143 / H), **leg_kw)
fig.legend(legend_handles(), ['Monthly mean', 'Daily SLA', 'Nov-Apr SLA', 'May-Oct mean'],
           bbox_to_anchor=(1159 / W, 1 - 488 / H), **leg_kw)

fig.savefig('out.png', dpi=100, facecolor='white')
